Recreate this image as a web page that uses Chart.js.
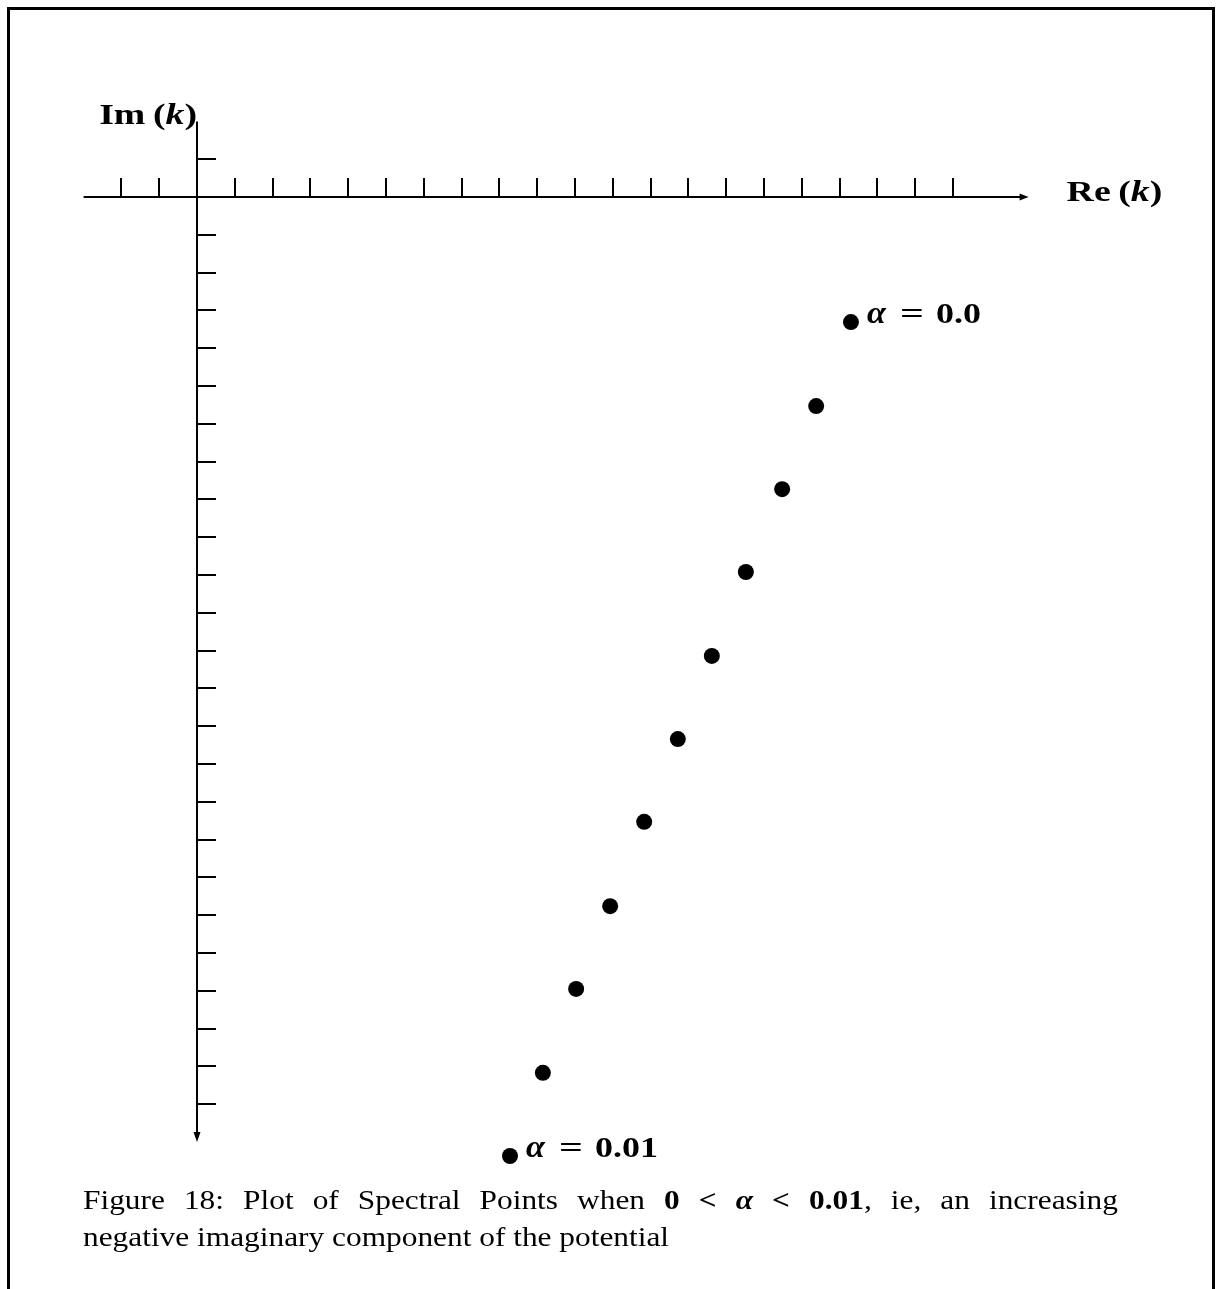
<!DOCTYPE html>
<html lang="en">
<head>
  <meta charset="UTF-8" />
  <title>Figure 18 - Spectral Points</title>
  <style>
    body {
      margin: 0;
      background: #fff;
      width: 1219px;
      height: 1289px;
      overflow: hidden;
      position: relative;
      font-family: 'Liberation Serif', 'DejaVu Serif', serif;
      color: #000;
    }
    .frame {
      position: absolute;
      left: 7px;
      top: 7px;
      width: 1202px;
      height: 1400px;
      border: 3px solid #000;
    }
    #plot {
      position: absolute;
      left: 0;
      top: 0;
    }
    .caption {
      position: absolute;
      left: 83px;
      top: 1181px;
      width: 924px;
      font-size: 28px;
      line-height: 37px;
      transform: scaleX(1.12);
      transform-origin: 0 0;
    }
    .caption .l1 {
      text-align: justify;
      text-align-last: justify;
      white-space: nowrap;
    }
  </style>
</head>
<body>
  <div class="frame"></div>
  <canvas id="plot" width="1219" height="1289"></canvas>
  <div class="caption">
    <div class="l1">Figure 18: Plot of Spectral Points when <b>0 &lt; <i>α</i> &lt; 0.01</b>, ie, an increasing</div>
    <div>negative imaginary component of the potential</div>
  </div>

  <script src="https://cdn.jsdelivr.net/npm/chart.js"></script>
  <script>
    // spectral points, alpha going from 0.0 (top) to 0.01 (bottom)
    const reK = [17.30, 16.38, 15.48, 14.52, 13.62, 12.72, 11.83, 10.93, 10.03, 9.15, 8.28];
    const imK = [-3.31, -5.53, -7.73, -9.92, -12.14, -14.34, -16.53, -18.76, -20.95, -23.17, -25.37];
    const pointLabels = ['0.0', '', '', '', '', '', '', '', '', '', '0.01'];

    // axis tick marks (in axis units)
    const xTicks = [-2, -1, 1, 2, 3, 4, 5, 6, 7, 8, 9, 10, 11, 12, 13, 14, 15, 16, 17, 18, 19, 20];
    const yTicks = [1, -1, -2, -3, -4, -5, -6, -7, -8, -9, -10, -11, -12, -13, -14, -15, -16, -17, -18, -19, -20, -21, -22, -23, -24];
    const xAxisSpan = [-3, 22];
    const yAxisSpan = [-25, 2];
    // scale range, a bit past the drawn axes so the last point is not cut
    const xRange = [-3, 22];
    const yRange = [-27, 2];

    const SERIF = "'Liberation Serif', 'DejaVu Serif', serif";

    // draw [text, font] pieces from x, stretched by sx (CM fonts are wide)
    function drawPieces(ctx, pieces, x, y, sx) {
      ctx.save();
      ctx.translate(x, y);
      ctx.scale(sx, 1);
      let cx = 0;
      pieces.forEach(p => {
        ctx.font = p[1];
        ctx.fillText(p[0], cx, 0);
        cx += ctx.measureText(p[0]).width;
      });
      ctx.restore();
    }
    function piecesWidth(ctx, pieces, sx) {
      let w = 0;
      pieces.forEach(p => { ctx.font = p[1]; w += ctx.measureText(p[0]).width; });
      return w * sx;
    }

    const crossAxes = {
      id: 'crossAxes',
      beforeDatasetsDraw(chart) {
        const ctx = chart.ctx;
        const xs = chart.scales.x, ys = chart.scales.y;
        const x0 = xs.getPixelForValue(0), y0 = ys.getPixelForValue(0);
        const xEnd = xs.getPixelForValue(xAxisSpan[1]);
        const yEnd = ys.getPixelForValue(yAxisSpan[0]);
        const yTop = ys.getPixelForValue(yAxisSpan[1]);
        const tick = 19;

        ctx.save();
        ctx.strokeStyle = '#000';
        ctx.fillStyle = '#000';
        ctx.lineWidth = 2;

        // horizontal axis
        ctx.beginPath();
        ctx.moveTo(xs.getPixelForValue(xAxisSpan[0]), y0);
        ctx.lineTo(xEnd - 6, y0);
        ctx.stroke();
        ctx.beginPath();
        ctx.moveTo(xEnd, y0);
        ctx.lineTo(xEnd - 9, y0 - 3.5);
        ctx.lineTo(xEnd - 9, y0 + 3.5);
        ctx.closePath();
        ctx.fill();

        // vertical axis
        ctx.beginPath();
        ctx.moveTo(x0, yTop);
        ctx.lineTo(x0, yEnd - 6);
        ctx.stroke();
        ctx.beginPath();
        ctx.moveTo(x0, yEnd);
        ctx.lineTo(x0 - 3.5, yEnd - 10);
        ctx.lineTo(x0 + 3.5, yEnd - 10);
        ctx.closePath();
        ctx.fill();

        // ticks
        ctx.beginPath();
        xTicks.forEach(v => {
          const px = Math.round(xs.getPixelForValue(v));
          ctx.moveTo(px, y0);
          ctx.lineTo(px, y0 - tick);
        });
        yTicks.forEach(v => {
          const py = Math.round(ys.getPixelForValue(v));
          ctx.moveTo(x0, py);
          ctx.lineTo(x0 + tick, py);
        });
        ctx.stroke();

        // axis names
        const fb = 'bold 30px ' + SERIF;
        const fbi = 'italic bold 30px ' + SERIF;
        ctx.textBaseline = 'alphabetic';
        const re = [['Re\u2009(', fb], ['k', fbi], [')', fb]];
        drawPieces(ctx, re, xEnd + 38, y0 + 4, 1.26);
        const im = [['Im\u2009(', fb], ['k', fbi], [')', fb]];
        drawPieces(ctx, im, x0 - piecesWidth(ctx, im, 1.26), yTop + 3, 1.26);
        ctx.restore();
      },
      afterDatasetsDraw(chart) {
        const ctx = chart.ctx;
        const meta = chart.getDatasetMeta(0);
        ctx.save();
        ctx.fillStyle = '#000';
        ctx.textBaseline = 'alphabetic';
        pointLabels.forEach((lab, i) => {
          if (!lab) return;
          const pt = meta.data[i];
          const x = pt.x + 16, y = pt.y + 1;
          drawPieces(ctx, [['α', 'italic bold 31px ' + SERIF]], x, y, 1.1);
          drawPieces(ctx, [['=', 'bold 30px ' + SERIF]], x + 33, y, 1.4);
          drawPieces(ctx, [[lab, 'bold 30px ' + SERIF]], x + 69, y, 1.2);
        });
        ctx.restore();
      }
    };

    const unit = 37.8;
    const W = 1219, H = 1289, ox = 197, oy = 197;

    new Chart(document.getElementById('plot'), {
      type: 'scatter',
      data: {
        datasets: [{
          data: reK.map((x, i) => ({ x: x, y: imK[i] })),
          pointRadius: 8,
          pointHoverRadius: 8,
          backgroundColor: '#000',
          borderWidth: 0,
          clip: false
        }]
      },
      options: {
        responsive: false,
        animation: false,
        events: [],
        layout: {
          padding: {
            left: ox + xRange[0] * unit,
            right: W - (ox + xRange[1] * unit),
            top: oy - yRange[1] * unit,
            bottom: H - (oy - yRange[0] * unit)
          }
        },
        scales: {
          x: { type: 'linear', min: xRange[0], max: xRange[1], display: false },
          y: { type: 'linear', min: yRange[0], max: yRange[1], display: false }
        },
        plugins: { legend: { display: false }, tooltip: { enabled: false } }
      },
      plugins: [crossAxes]
    });
  </script>
</body>
</html>
